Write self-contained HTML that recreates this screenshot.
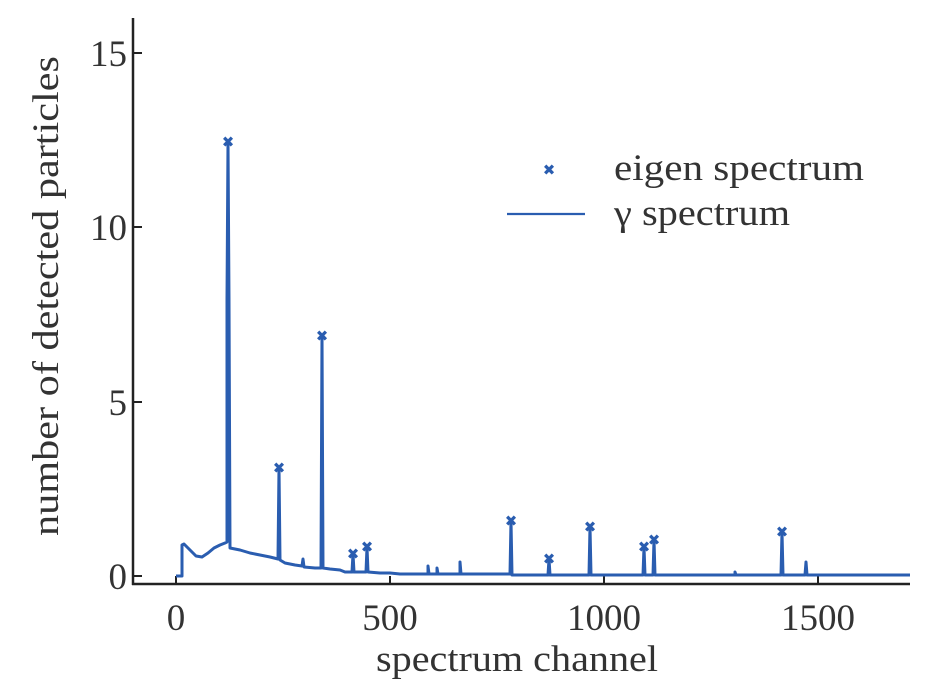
<!DOCTYPE html>
<html><head><meta charset="utf-8"><style>
html,body{margin:0;padding:0;background:#fff;}
svg{display:block;}
text{font-family:"Liberation Serif",serif;fill:#333;}
.m text{fill:#2a5db0;font-family:"DejaVu Sans",sans-serif;font-weight:bold;}
</style></head><body>
<svg width="940" height="689" viewBox="0 0 940 689" xmlns="http://www.w3.org/2000/svg">
<line x1="133" y1="18" x2="133" y2="585" stroke="#222" stroke-width="2.5"/>
<line x1="132" y1="584" x2="910" y2="584" stroke="#222" stroke-width="2.5"/>
<g stroke="#222" stroke-width="2">
<line x1="133" y1="576" x2="142" y2="576"/>
<line x1="133" y1="402" x2="142" y2="402"/>
<line x1="133" y1="227" x2="142" y2="227"/>
<line x1="133" y1="53" x2="142" y2="53"/>
<line x1="176" y1="584" x2="176" y2="576"/>
<line x1="390" y1="584" x2="390" y2="576"/>
<line x1="604" y1="584" x2="604" y2="576"/>
<line x1="818" y1="584" x2="818" y2="576"/>
</g>
<g font-size="37" text-anchor="end">
<text x="127" y="589">0</text>
<text x="127" y="415">5</text>
<text x="127" y="240">10</text>
<text x="127" y="66">15</text>
</g>
<g font-size="37" text-anchor="middle">
<text x="176" y="630">0</text>
<text x="390" y="630">500</text>
<text x="604" y="630">1000</text>
<text x="818" y="630">1500</text>
</g>
<text x="517" y="671" font-size="37" text-anchor="middle" textLength="282" lengthAdjust="spacingAndGlyphs">spectrum channel</text>
<text transform="translate(58,296) rotate(-90)" font-size="37" text-anchor="middle" textLength="480" lengthAdjust="spacingAndGlyphs">number of detected particles</text>
<polyline fill="none" stroke="#2a5db0" stroke-width="3" stroke-linejoin="round" points="
176,576 182,576 182,545 184,544 190,550 196,556 202,557 208,553 214,548 220,545 225,543 227,542
227,300 228,142 229,300 230,548 240,550 250,553 260,555 270,557 278,559 279,468 280,560 285,563 295,565
302,566 303,559 304,567 315,568 321,568 322,336 323,568 330,569 340,570 345,572 352,572 353,554 354,572
366,572 367,547 368,572 380,573 390,573 400,574 420,574 428,574 428,566 429,574 437,574 437,568 438,574
450,574 460,574 460,562 461,574 480,574 510,574 511,521 512,575 530,575 548,575 549,559 550,575
570,575 589,575 590,527 591,575 620,575 643,575 644,547 645,575 653,575 654,540 655,575 700,575
735,575 735,572 736,575 781,575 782,532 783,575 805,575 806,562 807,575 910,575"/>
<g class="m" font-size="15" text-anchor="middle">
<text x="228" y="147">✖</text>
<text x="279" y="473">✖</text>
<text x="322" y="341">✖</text>
<text x="353" y="559">✖</text>
<text x="367" y="552">✖</text>
<text x="511" y="526">✖</text>
<text x="549" y="564">✖</text>
<text x="590" y="532">✖</text>
<text x="644" y="552">✖</text>
<text x="654" y="545">✖</text>
<text x="782" y="537">✖</text>
<text x="549" y="175">✖</text>
</g>
<line x1="507" y1="214" x2="585" y2="214" stroke="#2a5db0" stroke-width="2.2"/>
<text x="614" y="180" font-size="37" textLength="250" lengthAdjust="spacingAndGlyphs">eigen spectrum</text>
<text x="614" y="225" font-size="37" textLength="176" lengthAdjust="spacingAndGlyphs">γ spectrum</text>
</svg>
</body></html>
